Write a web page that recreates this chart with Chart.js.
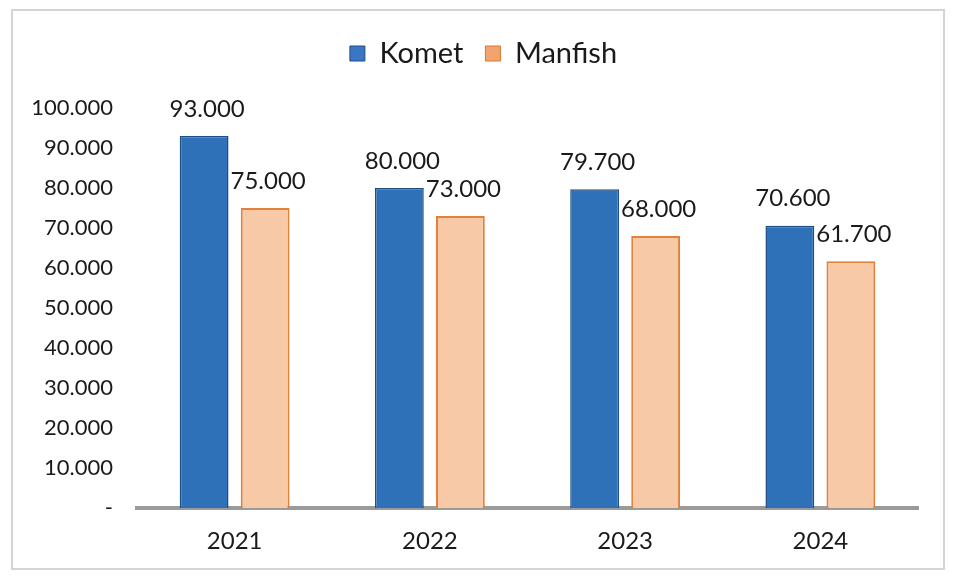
<!DOCTYPE html>
<html>
<head>
<meta charset="utf-8">
<script src="https://cdn.jsdelivr.net/npm/chart.js@4.4.1/dist/chart.umd.min.js"></script>
<style>
  body { margin: 0; background: #fff; }
  #frame { position: absolute; left: 11px; top: 9px; width: 930px; height: 557px; border: 2px solid #d4d4d4; }
  #wrap { position: absolute; left: 0; top: 0; width: 957px; height: 580px; }
</style>
</head>
<body>
<div id="frame"></div>
<div id="wrap"><canvas id="chart"></canvas></div>
<script>
  const years = ["2021", "2022", "2023", "2024"];
  const komet = [93000, 80000, 79700, 70600];
  const manfish = [75000, 73000, 68000, 61700];
  const yTicks = [0, 10000, 20000, 30000, 40000, 50000, 60000, 70000, 80000, 90000, 100000];

  const FONT = "Lato, 'Liberation Sans', sans-serif";

  // 93000 -> "93.000", 0 -> "-"
  function fmt(v) {
    if (v === 0) return "-";
    return String(Math.round(v)).replace(/\B(?=(\d{3})+(?!\d))/g, ".");
  }

  const valueLabels = {
    id: "valueLabels",
    afterDatasetsDraw(chart) {
      const ctx = chart.ctx;
      ctx.save();
      ctx.font = "24px " + FONT;
      ctx.fillStyle = "#1a1a1a";
      ctx.textAlign = "center";
      ctx.textBaseline = "middle";
      chart.data.datasets.forEach((ds, i) => {
        chart.getDatasetMeta(i).data.forEach((bar, j) => {
          ctx.fillText(fmt(ds.data[j]), bar.x + 3, bar.y - 27);
        });
      });
      ctx.restore();
    }
  };

  // extra room under the legend, and nudge it right a little
  const legendSpace = {
    id: "legendSpace",
    beforeInit(chart) {
      const legend = chart.legend;
      const fit = legend.fit;
      legend.fit = function () {
        fit.call(this);
        this.height += 30;
      };
      const draw = legend.draw;
      legend.draw = function () {
        const ctx = this.ctx;
        ctx.save();
        ctx.translate(16, 0);
        draw.call(this);
        ctx.restore();
      };
    }
  };

  new Chart(document.getElementById("chart"), {
    type: "bar",
    data: {
      labels: years,
      datasets: [
        {
          label: "Komet",
          data: komet,
          backgroundColor: "#2E71B8",
          borderColor: "#1F4E85",
          borderWidth: 1.5,
          categoryPercentage: 0.625,
          barPercentage: 0.8
        },
        {
          label: "Manfish",
          data: manfish,
          backgroundColor: "#F8C9A6",
          borderColor: "#E3803C",
          borderWidth: 2,
          categoryPercentage: 0.625,
          barPercentage: 0.8
        }
      ]
    },
    options: {
      responsive: true,
      maintainAspectRatio: false,
      animation: false,
      layout: { padding: { top: 17, left: 17, right: 39, bottom: 13 } },
      plugins: {
        legend: {
          position: "top",
          labels: {
            color: "#1a1a1a",
            font: { family: FONT, size: 29 },
            boxWidth: 15,
            boxHeight: 15,
            padding: 22,
            generateLabels(chart) {
              const fills = ["#3A76C4", "#F2A46E"];
              const strokes = ["#1F4E85", "#D9772F"];
              return chart.data.datasets.map((ds, i) => ({
                text: ds.label,
                fillStyle: fills[i],
                strokeStyle: strokes[i],
                lineWidth: 1,
                datasetIndex: i,
                fontColor: "#1a1a1a"
              }));
            }
          }
        },
        tooltip: { enabled: false }
      },
      scales: {
        x: {
          grid: { display: false },
          border: { display: true, color: "#9a9a9a", width: 4 },
          ticks: { color: "#1a1a1a", font: { family: FONT, size: 24 }, padding: 11 }
        },
        y: {
          min: 0,
          max: 100000,
          afterBuildTicks(scale) {
            scale.ticks = yTicks.map(v => ({ value: v }));
          },
          afterFit(scale) { scale.width = 120; },
          grid: { display: false },
          border: { display: false },
          ticks: {
            color: "#1a1a1a",
            font: { family: FONT, size: 22 },
            padding: 16,
            callback: v => fmt(v)
          }
        }
      }
    },
    plugins: [legendSpace, valueLabels]
  });
</script>
</body>
</html>
